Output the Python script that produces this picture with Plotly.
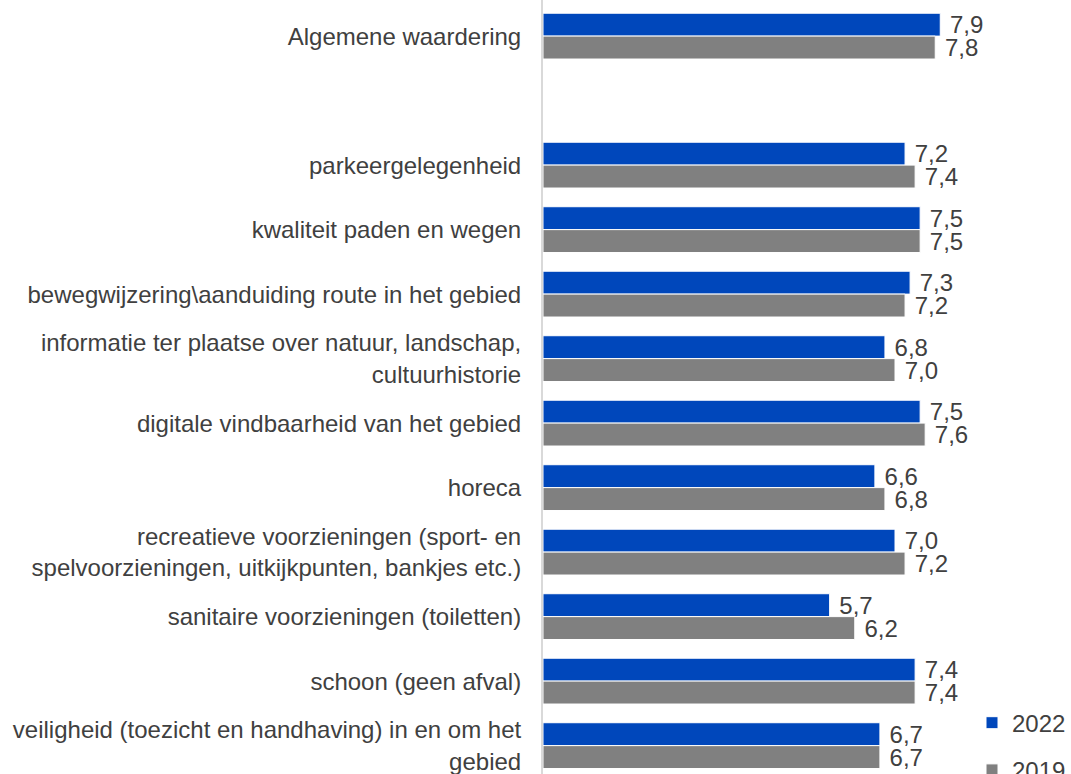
import plotly.graph_objects as go

# Aspects rated by visitors (top to bottom); the blank entry is a spacer row
categories = [
    "Algemene waardering",
    " ",
    "parkeergelegenheid",
    "kwaliteit paden en wegen",
    "bewegwijzering\\aanduiding route in het gebied",
    "informatie ter plaatse over natuur, landschap,<br>cultuurhistorie",
    "digitale vindbaarheid van het gebied",
    "horeca",
    "recreatieve voorzieningen (sport- en<br>spelvoorzieningen, uitkijkpunten, bankjes etc.)",
    "sanitaire voorzieningen (toiletten)",
    "schoon (geen afval)",
    "veiligheid (toezicht en handhaving) in en om het<br>gebied",
]

scores_2022 = [7.9, None, 7.2, 7.5, 7.3, 6.8, 7.5, 6.6, 7.0, 5.7, 7.4, 6.7]
scores_2019 = [7.8, None, 7.4, 7.5, 7.2, 7.0, 7.6, 6.8, 7.2, 6.2, 7.4, 6.7]

BLUE = "#0047BB"
GREY = "#808080"
TEXT = "#404040"
FONT = "Liberation Sans, Arial, sans-serif"

fig = go.Figure()
for name, values, colour in [("2022", scores_2022, BLUE), ("2019", scores_2019, GREY)]:
    fig.add_trace(go.Bar(
        y=categories,
        x=values,
        name=name,
        orientation="h",
        legendgroup=name,
        marker=dict(color=colour, line=dict(color="white", width=1)),
        texttemplate="\u00a0%{x:.1f}",
        textposition="outside",
        constraintext="none",
        cliponaxis=False,
        textfont=dict(size=24, color=TEXT, family=FONT),
        hoverinfo="x+y",
    ))

fig.update_layout(
    width=1071,
    height=774,
    margin=dict(l=543, r=0, t=0, b=0, autoexpand=False),
    paper_bgcolor="white",
    plot_bgcolor="white",
    barmode="group",
    bargap=0.29,
    bargroupgap=0.0,
    separators=",.",
    font=dict(family=FONT, size=24, color=TEXT),
    showlegend=True,
    legend=dict(
        x=1.0, xanchor="right",
        y=-0.024, yanchor="bottom",
        traceorder="grouped",
        tracegroupgap=13,
        itemwidth=30,
        font=dict(size=24, color=TEXT, family=FONT),
        bgcolor="rgba(0,0,0,0)",
    ),
    xaxis=dict(
        range=[0, 10.5],
        showgrid=False,
        zeroline=False,
        showticklabels=False,
        showline=False,
        fixedrange=True,
    ),
    yaxis=dict(
        categoryorder="array",
        categoryarray=categories,
        range=[11.44, -0.56],
        showgrid=False,
        zeroline=False,
        showline=True,
        linecolor="#D9D9D9",
        linewidth=2,
        ticks="",
        ticklabelstandoff=15,
        tickfont=dict(size=24, color=TEXT, family=FONT),
        automargin=False,
        fixedrange=True,
    ),
)

fig.write_html("out.html")
